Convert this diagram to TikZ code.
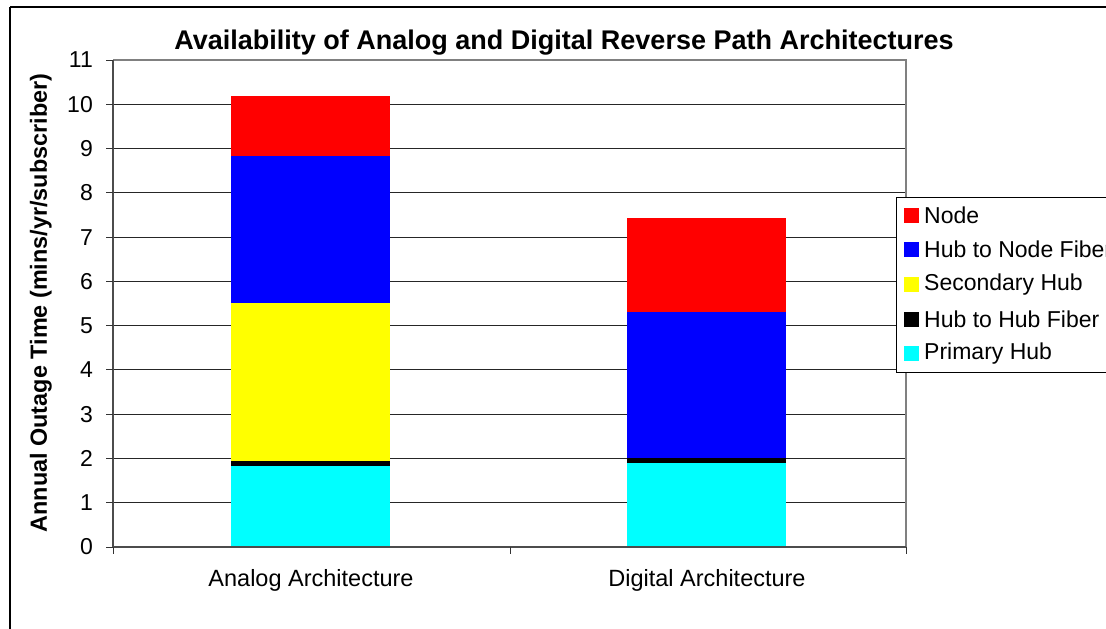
\documentclass[tikz,border=0pt]{standalone}
\usepackage{fontspec}
\setmainfont{Liberation Sans}
\definecolor{barcyan}{RGB}{0,255,255}
\definecolor{baryellow}{RGB}{255,255,0}
\definecolor{barred}{RGB}{255,0,0}
\definecolor{barblue}{RGB}{0,0,255}
\begin{document}
\begin{tikzpicture}[x=1pt,y=-1pt,
  grid/.style={draw=black!85,line width=1pt},
  axisline/.style={draw=black!70,line width=2pt},
  frameline/.style={draw=black!50,line width=1.5pt},
  ticklbl/.style={anchor=east,inner sep=0pt,font=\fontsize{23}{26}\selectfont},
  catlbl/.style={anchor=center,inner sep=0pt,font=\fontsize{23.5}{26}\selectfont},
  swatch/.style={minimum width=15pt,minimum height=15pt,inner sep=0pt,draw=none},
  legtext/.style={anchor=west,inner sep=0pt,font=\fontsize{23}{26}\selectfont},
]
\useasboundingbox (0,0) rectangle (1106,629);
\fill[white] (0,0) rectangle (1106,629);
% chart area border
\draw[black,line width=1.5pt] (10,7) -- (1110,7);
\draw[black,line width=1.5pt] (10,7) -- (10,640);

% value-to-y conversion: 0 at y=547, 11 at y=60
\def\yz{547}\def\yu{44.2727}

% horizontal grid lines
\foreach \v in {1,...,10} {
  \draw[grid] (113,{\yz-\yu*\v}) -- (906,{\yz-\yu*\v});
}
% plot frame (top and right)
\draw[frameline] (113,60) -- (906,60) -- (906,547);

% stacked bars: analog
\fill[barcyan]   (231,547) rectangle (390,{\yz-\yu*1.84});
\fill[black]     (231,{\yz-\yu*1.84}) rectangle (390,{\yz-\yu*1.94});
\fill[baryellow] (231,{\yz-\yu*1.94}) rectangle (390,{\yz-\yu*5.51});
\fill[barblue]   (231,{\yz-\yu*5.51}) rectangle (390,{\yz-\yu*8.83});
\fill[barred]    (231,{\yz-\yu*8.83}) rectangle (390,{\yz-\yu*10.19});
% stacked bars: digital
\fill[barcyan]   (627,547) rectangle (786,{\yz-\yu*1.90});
\fill[black]     (627,{\yz-\yu*1.90}) rectangle (786,{\yz-\yu*2.01});
\fill[barblue]   (627,{\yz-\yu*2.01}) rectangle (786,{\yz-\yu*5.31});
\fill[barred]    (627,{\yz-\yu*5.31}) rectangle (786,{\yz-\yu*7.43});

% axes
\draw[axisline] (113,60) -- (113,547);
\draw[axisline] (113,547) -- (906,547);
\foreach \v in {0,...,11} {
  \draw[black!80,line width=1pt] (106,{\yz-\yu*\v}) -- (113,{\yz-\yu*\v});
  \node[ticklbl] (t\v) at (93,{\yz-\yu*\v}) {\v};
}
\foreach \x in {113,510,906} {
  \draw[black!80,line width=1pt] (\x,547) -- (\x,554);
}

% labels
\node[catlbl] (cA) at (311,580) {Analog Architecture};
\node[catlbl] (cD) at (707,580) {Digital Architecture};
\node[inner sep=0pt,font=\bfseries\fontsize{27}{30}\selectfont] (title) at (564,43)
  {Availability of Analog and Digital Reverse Path Architectures};
\node[inner sep=0pt,rotate=90,font=\bfseries\fontsize{23.4}{26}\selectfont] (ylab) at (41,303)
  {Annual Outage Time (mins/yr/subscriber)};

% legend
\draw[black,line width=1pt,fill=white] (1110,197) -- (896,197) -- (896,372) -- (1110,372);
\foreach \n/\c/\t [count=\i from 0] in {
  lnode/barred/Node,
  lhnf/barblue/Hub to Node Fiber,
  lsec/baryellow/Secondary Hub,
  lhhf/black/Hub to Hub Fiber,
  lprim/barcyan/Primary Hub} {
  \node[swatch,fill=\c] (\n) at (911.5,{215+34.7*\i}) {};
  \node[legtext] (\n-t) at (924,{215+34.7*\i}) {\t};
}
\end{tikzpicture}
\end{document}
